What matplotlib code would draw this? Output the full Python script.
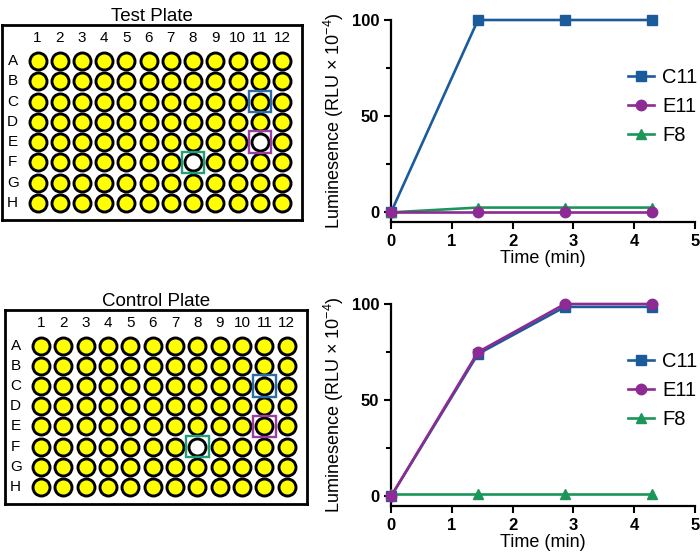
import matplotlib.pyplot as plt
from matplotlib.patches import Rectangle
from matplotlib.ticker import MultipleLocator

plt.rcParams['font.family'] = ['Liberation Sans', 'DejaVu Sans']
plt.rcParams['mathtext.default'] = 'regular'

# plate layout
rows = ["A", "B", "C", "D", "E", "F", "G", "H"]
cols = [str(i) for i in range(1, 13)]

# wells marked on each plate: (row, col, colour)
highlights = [("C", 11, "#2b6ea6"), ("E", 11, "#9c3ea0"), ("F", 8, "#22a074")]
test_empty = [("E", 11), ("F", 8)]
control_empty = [("F", 8)]

# time course
time = [0, 1.43, 2.86, 4.29]
test_c11 = [0, 100, 100, 100]
test_e11 = [0, 0, 0, 0]
test_f8 = [0, 2.5, 2.5, 2.5]
ctrl_c11 = [0, 74, 98.5, 98.5]
ctrl_e11 = [0, 75, 100, 100]
ctrl_f8 = [1, 1, 1, 1]

series_style = {
    "C11": dict(color="#1c5b9b", marker="s", zorder=3),
    "E11": dict(color="#8e2a93", marker="o", zorder=5),
    "F8": dict(color="#1b9658", marker="^", zorder=4),
}


def draw_plate(ax, title, empty):
    for r, rname in enumerate(rows):
        for c in range(1, 13):
            face = "white" if (rname, c) in empty else "#ffff00"
            ax.scatter(c, r, s=150, facecolor=face, edgecolor="black",
                       linewidth=2.1, zorder=2)
    for c, lab in enumerate(cols, start=1):
        ax.text(c, -1.15, lab, ha="center", va="center", fontsize=11)
    for r, lab in enumerate(rows):
        ax.text(-0.12, r, lab, ha="center", va="center", fontsize=11)
    for rname, c, col in highlights:
        r = rows.index(rname)
        ax.add_patch(Rectangle((c - 0.5, r - 0.53), 1.0, 1.06, fill=False,
                               edgecolor=col, linewidth=1.7, zorder=3))
    ax.set_xlim(-0.6, 12.9)
    ax.set_ylim(7.85, -1.78)
    ax.set_xticks([])
    ax.set_yticks([])
    for sp in ax.spines.values():
        sp.set_linewidth(2.0)
    ax.set_title(title, fontsize=13.5, pad=3)


def draw_curve(ax, c11, e11, f8):
    for name, vals in (("C11", c11), ("E11", e11), ("F8", f8)):
        st = series_style[name]
        ax.plot(time, vals, color=st["color"], marker=st["marker"], markersize=7.5,
                linewidth=1.9, label=name, zorder=st["zorder"], clip_on=False)
    ax.set_xlim(0, 5)
    ax.set_ylim(-5, 100)
    ax.set_xticks([0, 1, 2, 3, 4, 5])
    ax.set_yticks([0, 50, 100])
    ax.yaxis.set_minor_locator(MultipleLocator(25))
    ax.spines["top"].set_visible(False)
    ax.spines["right"].set_visible(False)
    for sp in ("left", "bottom"):
        ax.spines[sp].set_linewidth(1.6)
    ax.tick_params(which="major", length=5, width=1.5, labelsize=12)
    ax.tick_params(which="minor", length=3.5, width=1.5)
    ax.tick_params(axis="x", which="minor", bottom=False)
    for lab in ax.get_xticklabels() + ax.get_yticklabels():
        lab.set_fontweight("bold")
    ax.set_xlabel("Time (min)", fontsize=13, labelpad=1)
    ax.set_ylabel("Luminesence (RLU \u00d7 10$^{-4}$)", fontsize=13, labelpad=4)
    ax.legend(loc="center left", bbox_to_anchor=(0.78, 0.57), frameon=False,
              fontsize=14.5, handlelength=1.3, handletextpad=0.4,
              labelspacing=0.5, borderpad=0, borderaxespad=0)


fig = plt.figure(figsize=(7, 5.52), dpi=100)

W, H = 700, 552
ax1 = fig.add_axes([2 / W, 1 - 220 / H, 300 / W, 195 / H])
ax2 = fig.add_axes([5 / W, 1 - 504 / H, 302 / W, 194 / H])
ax3 = fig.add_axes([391 / W, 1 - 222 / H, 304 / W, 202 / H])
ax4 = fig.add_axes([391 / W, 1 - 506 / H, 304 / W, 202 / H])

draw_plate(ax1, "Test Plate", test_empty)
draw_plate(ax2, "Control Plate", control_empty)
draw_curve(ax3, test_c11, test_e11, test_f8)
draw_curve(ax4, ctrl_c11, ctrl_e11, ctrl_f8)

fig.savefig("out.png", dpi=100)
